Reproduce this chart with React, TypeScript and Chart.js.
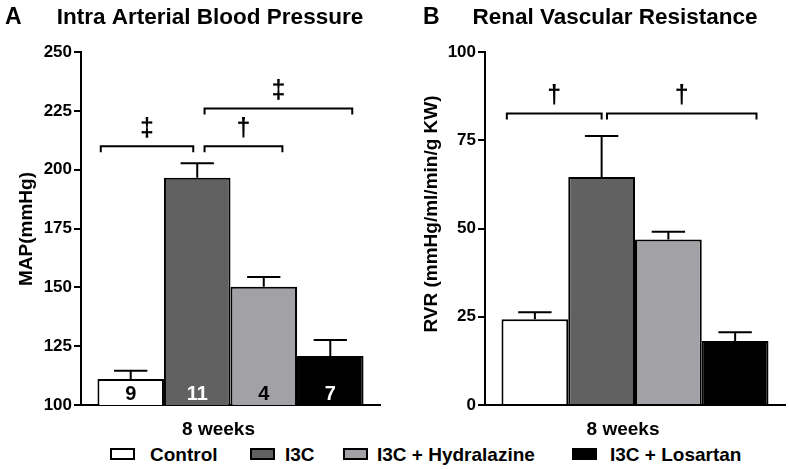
import { useEffect, useRef } from "react";
import { Chart, registerables } from "chart.js";

Chart.register(...registerables);

// ---------- data ----------
const categories = ["8 weeks"];
const groups = ["Control", "I3C", "I3C + Hydralazine", "I3C + Losartan"];

const mapMeans = [111, 196.6, 150.3, 120.8];
const mapSem = [3.6, 6.1, 4.1, 6.8];
const mapN = ["9", "11", "4", "7"];
const mapTicks = [100, 125, 150, 175, 200, 225, 250];

const rvrMeans = [24.3, 64.6, 46.9, 18.1];
const rvrSem = [2.0, 11.6, 2.2, 2.5];
const rvrTicks = [0, 25, 50, 75, 100];

// significance brackets: from/to in bar units (bar i spans i..i+1), y in data units
const mapBrackets = [
  { from: 0.05, to: 1.44, y: 210, mark: "‡" },
  { from: 1.61, to: 2.78, y: 210, mark: "†" },
  { from: 1.61, to: 3.83, y: 226, mark: "‡" },
];
const rvrBrackets = [
  { from: 0.08, to: 1.5, y: 82.6, mark: "†" },
  { from: 1.58, to: 3.82, y: 82.6, mark: "†" },
];

// ---------- styles ----------
const FONT = "'Liberation Sans', Arial, sans-serif";
const barColors = ["#ffffff", "#616161", "#a2a2a6", "#000000"];
const nColors = ["#000000", "#ffffff", "#000000", "#ffffff"];

Chart.defaults.font.family = FONT;
Chart.defaults.color = "#000";

type Bracket = { from: number; to: number; y: number; mark: string };
type PanelCfg = {
  letter: string;
  title: string;
  yTitle: string;
  means: number[];
  sem: number[];
  n: string[] | null;
  ticks: number[];
  brackets: Bracket[];
  letterX: number;
  titleCX: number;
  yTitleX: number;
  yTitleY: number;
  yWidth: number;
  padRight: number;
};

function makeOverlay(cfg: PanelCfg) {
  return {
    id: "overlay",
    afterDatasetsDraw(chart: any) {
      const ctx: CanvasRenderingContext2D = chart.ctx;
      const ys = chart.scales.y;
      const bars = groups.map((_, i) => chart.getDatasetMeta(i).data[0] as any);
      ctx.save();
      ctx.strokeStyle = "#000";
      ctx.lineWidth = 2;
      // error bars (upper only)
      cfg.means.forEach((m, i) => {
        const b = bars[i];
        const top = ys.getPixelForValue(m + cfg.sem[i]);
        const base = ys.getPixelForValue(m);
        const half = b.width * 0.25;
        ctx.beginPath();
        ctx.moveTo(b.x, base);
        ctx.lineTo(b.x, top);
        ctx.moveTo(b.x - half, top);
        ctx.lineTo(b.x + half, top);
        ctx.stroke();
      });
      // n labels
      if (cfg.n) {
        ctx.font = `bold 20px ${FONT}`;
        ctx.textAlign = "center";
        ctx.textBaseline = "alphabetic";
        cfg.n.forEach((t, i) => {
          ctx.fillStyle = nColors[i];
          ctx.fillText(t, bars[i].x, chart.chartArea.bottom - 5);
        });
      }
      // brackets
      const w = bars[0].width;
      const left0 = bars[0].x - w / 2;
      ctx.fillStyle = "#000";
      ctx.font = `bold 25px ${FONT}`;
      ctx.textAlign = "center";
      ctx.textBaseline = "middle";
      cfg.brackets.forEach((br) => {
        const x1 = left0 + br.from * w;
        const x2 = left0 + br.to * w;
        const yy = ys.getPixelForValue(br.y);
        ctx.beginPath();
        ctx.moveTo(x1, yy + 6);
        ctx.lineTo(x1, yy);
        ctx.lineTo(x2, yy);
        ctx.lineTo(x2, yy + 6);
        ctx.stroke();
        ctx.fillText(br.mark, (x1 + x2) / 2, yy - 17);
      });
      ctx.restore();
    },
    afterDraw(chart: any) {
      const ctx: CanvasRenderingContext2D = chart.ctx;
      ctx.save();
      ctx.fillStyle = "#000";
      ctx.textBaseline = "alphabetic";
      ctx.font = `bold 23px ${FONT}`;
      ctx.textAlign = "left";
      ctx.fillText(cfg.letter, cfg.letterX, 24);
      ctx.font = `bold 22.5px ${FONT}`;
      ctx.textAlign = "center";
      ctx.fillText(cfg.title, cfg.titleCX, 24);
      // y axis title
      ctx.translate(cfg.yTitleX, cfg.yTitleY);
      ctx.rotate(-Math.PI / 2);
      ctx.font = `bold 19px ${FONT}`;
      ctx.textAlign = "center";
      ctx.textBaseline = "middle";
      ctx.fillText(cfg.yTitle, 0, 0);
      ctx.restore();
    },
  };
}

function Panel({ cfg, left, width }: { cfg: PanelCfg; left: number; width: number }) {
  const ref = useRef<HTMLCanvasElement>(null);
  useEffect(() => {
    const chart = new Chart(ref.current!, {
      type: "bar",
      data: {
        labels: categories,
        datasets: groups.map((g, i) => ({
          label: g,
          data: [cfg.means[i]],
          backgroundColor: barColors[i],
          borderColor: "#000",
          borderWidth: 2,
          categoryPercentage: 0.89,
          barPercentage: 1,
        })),
      },
      options: {
        responsive: true,
        maintainAspectRatio: false,
        animation: false,
        layout: { padding: { top: 52, right: cfg.padRight, left: 0, bottom: 0 } },
        plugins: { legend: { display: false }, tooltip: { enabled: false }, title: { display: false } },
        scales: {
          x: {
            type: "category",
            grid: { display: false },
            border: { display: true, color: "#000", width: 2 },
            ticks: { font: { size: 19, weight: "bold" }, color: "#000", padding: 5, labelOffset: -12 },
            afterFit: (s: any) => {
              s.height = 35;
            },
          },
          y: {
            type: "linear",
            min: cfg.ticks[0],
            max: cfg.ticks[cfg.ticks.length - 1],
            ticks: {
              stepSize: cfg.ticks[1] - cfg.ticks[0],
              font: { size: 17, weight: "bold" },
              color: "#000",
              padding: 2,
            },
            grid: { drawOnChartArea: false, drawTicks: true, tickLength: 7, color: "#000", lineWidth: 2 },
            border: { display: true, color: "#000", width: 2 },
            afterFit: (s: any) => {
              s.width = cfg.yWidth;
            },
          },
        },
      },
      plugins: [makeOverlay(cfg) as any],
    });
    return () => chart.destroy();
  }, []);
  return (
    <div style={{ position: "absolute", left, top: 0, width, height: 440 }}>
      <canvas ref={ref} />
    </div>
  );
}

const panelA: PanelCfg = {
  letter: "A",
  title: "Intra Arterial Blood Pressure",
  yTitle: "MAP(mmHg)",
  means: mapMeans,
  sem: mapSem,
  n: mapN,
  ticks: mapTicks,
  brackets: mapBrackets,
  letterX: 5,
  titleCX: 210,
  yTitleX: 27,
  yTitleY: 229,
  yWidth: 81,
  padRight: 10,
};

const panelB: PanelCfg = {
  letter: "B",
  title: "Renal Vascular Resistance",
  yTitle: "RVR (mmHg/ml/min/g KW)",
  means: rvrMeans,
  sem: rvrSem,
  n: null,
  ticks: rvrTicks,
  brackets: rvrBrackets,
  letterX: 33,
  titleCX: 225,
  yTitleX: 42,
  yTitleY: 214,
  yWidth: 95,
  padRight: 4,
};

const legendBoxX = [110, 250, 343, 572];
const legendTextX = [150, 285, 377, 610];

export default function App() {
  return (
    <div style={{ position: "absolute", left: 0, top: 0, width: 789, height: 469, background: "#fff", fontFamily: FONT }}>
      <Panel cfg={panelA} left={0} width={390} />
      <Panel cfg={panelB} left={390} width={399} />
      {groups.map((g, i) => (
        <div key={g}>
          <div
            style={{
              position: "absolute",
              left: legendBoxX[i],
              top: 448,
              width: 25,
              height: 12,
              boxSizing: "border-box",
              border: "2px solid #000",
              background: barColors[i],
            }}
          />
          <div
            style={{
              position: "absolute",
              left: legendTextX[i],
              top: 445,
              fontSize: 19,
              lineHeight: "19px",
              fontWeight: "bold",
              whiteSpace: "nowrap",
              color: "#000",
            }}
          >
            {g}
          </div>
        </div>
      ))}
    </div>
  );
}
